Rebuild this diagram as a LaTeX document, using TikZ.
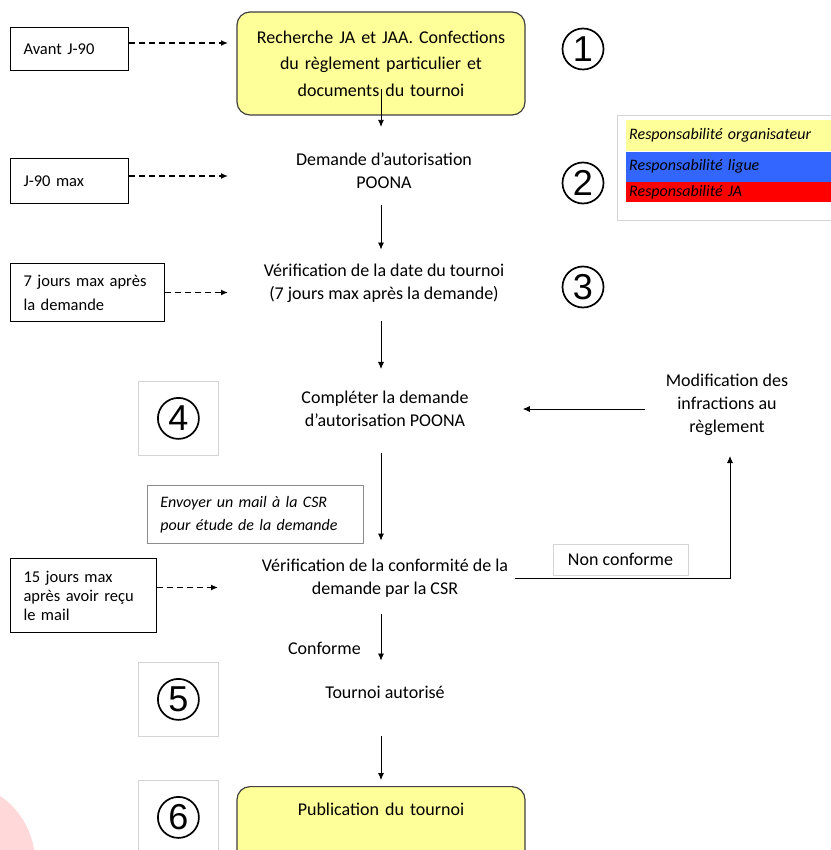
\documentclass[tikz,border=0pt]{standalone}
\usepackage{fontspec}
\setmainfont{Carlito}
\newfontfamily\digitfont{Liberation Sans}
\usetikzlibrary{positioning}
\usetikzlibrary{arrows.meta}
\definecolor{paleyellow}{HTML}{FFFF99}
\definecolor{ligueblue}{HTML}{3366FF}
\definecolor{ghost}{HTML}{D4D4D4}
\definecolor{blush}{HTML}{FFD9D9}

\begin{document}
\begin{tikzpicture}[x=1pt,y=-1pt,
    every node/.style={inner sep=0pt},
    body/.style={font=\fontsize{18}{23}\selectfont, align=center},
    delay/.style={draw, line width=1pt, anchor=north west, align=left, inner xsep=13pt, font=\fontsize{16.5}{24}\selectfont},
    phase/.style={draw=black!75, line width=1.2pt, fill=paleyellow, rounded corners=13pt, minimum width=288pt, minimum height=103pt, text width=270pt, align=center, font=\fontsize{18}{26.5}\selectfont},
    numbox/.style={draw=ghost, line width=0.8pt, minimum width=80pt, minimum height=74pt, anchor=north west},
    numero/.style={circle, draw, line width=1.7pt, minimum size=41pt, font=\digitfont\fontsize{36}{36}\selectfont},
    band/.style={anchor=north west, minimum width=220pt, text width=214pt, inner xsep=3pt, align=left, font=\fontsize{16}{18}\selectfont\itshape},
    flow/.style={-{Latex[length=7pt,width=6pt]}, line width=0.8pt},
    lag/.style={-{Latex[length=7pt,width=6pt]}, line width=1.8pt, dash pattern=on 6pt off 4pt},
  ]
  \useasboundingbox (0,0) rectangle (830,850);
  \fill[white] (0,0) rectangle (830,850);
  \fill[blush] (-45,862) circle (80pt);

  % Columns
  \coordinate (spine) at (381,0);
  \coordinate (lane) at (228,0);

  % Steps
  \node[phase] (recherche) at (381,63.5) {Recherche JA et JAA. Confections\\du règlement particulier et\\documents du tournoi};
  \node[body] (demande) at (384,171) {Demande d’autorisation\\POONA};
  \node[body] (datecheck) at (384,283) {Vérification de la date du tournoi\\(7 jours max après la demande)};
  \node[body] (completer) at (385,409) {Compléter la demande\\d’autorisation POONA};
  \node[body] (modif) at (727,405) {Modification des\\infractions au\\règlement};
  \node[body] (conformite) at (385,578) {Vérification de la conformité de la\\demande par la CSR};
  \node[body, anchor=east] (conforme) at (361,648) {Conforme};
  \node[body] (autorise) at (385,692) {Tournoi autorisé};
  \node[phase, anchor=north, text height=17pt, text depth=62pt, inner ysep=12pt] (publication) at (381,786) {Publication du tournoi};

  \node[body, draw=ghost, line width=0.8pt, minimum width=135pt, minimum height=31pt] (nonconf) at (620.5,559.5) {Non conforme};
  \node[draw=black!45, line width=0.8pt, anchor=north west, minimum height=58pt, text width=190pt, inner xsep=13pt, align=left, font=\fontsize{16}{23}\selectfont\itshape] (mail) at (147,485) {Envoyer un mail à la CSR\\pour étude de la demande};

  % Delays
  \node[delay, minimum height=43pt, text width=92pt] (avant) at (10,27) {Avant J-90};
  \node[delay, minimum height=45pt, text width=92pt] (j90) at (10,158) {J-90 max};
  \node[delay, minimum height=58pt, text width=128pt] (sept) at (10,263) {7 jours max après\\la demande};
  \node[delay, minimum height=74pt, text width=120pt, font=\fontsize{16.5}{19}\selectfont] (quinze) at (10,558) {15 jours max\\après avoir reçu\\le mail};

  % Numbers
  \node[numero] (n1) at (583,49) {1};
  \node[numero] (n2) at (583,183) {2};
  \node[numero] (n3) at (583,287) {3};
  \node[numbox] (cadre4) at (138,381) {};
  \node[numero] (n4) at (cadre4.center) {4};
  \node[numbox] (cadre5) at (138,662) {};
  \node[numero] (n5) at (cadre5.center) {5};
  \node[numbox] (cadre6) at (138,780) {};
  \node[numero] (n6) at (cadre6.center) {6};

  % Legend
  \node[draw=ghost, line width=0.8pt, anchor=north west, minimum width=240pt, minimum height=105pt] (legend) at (617,115) {};
  \node[band, fill=paleyellow, minimum height=31pt] (orga) at (626,120) {Responsabilité organisateur};
  \node[band, fill=ligueblue, minimum height=30pt, below=0pt of orga] (ligue) {Responsabilité ligue};
  \node[band, fill=red, minimum height=20pt, below=0pt of ligue] (ja) {Responsabilité JA};

  % Edges
  \draw[flow, shorten <=-27pt, shorten >=26pt] (recherche.south -| spine) -- (demande.north -| spine);
  \draw[flow, shorten <=16pt, shorten >=14pt] (demande.south -| spine) -- (datecheck.north -| spine);
  \draw[flow, shorten <=19pt, shorten >=22pt] (datecheck.south -| spine) -- (completer.north -| spine);
  \draw[flow, shorten <=26pt, shorten >=18pt] (completer.south -| spine) -- (conformite.north -| spine);
  \draw[flow, shorten <=17pt, shorten >=25pt] (conformite.south -| spine) -- (autorise.north -| spine);
  \draw[flow, shorten <=38pt, shorten >=6pt] (autorise.south -| spine) -- (publication.north -| spine);
  \draw[flow, shorten <=21pt, shorten >=54pt] (modif.west |- completer.east) -- (completer.east);
  \draw[flow, shorten <=7pt, shorten >=20pt] (conformite.east) -| (modif.south -| 730,0);

  \draw[lag] ([yshift=6pt]avant.east) -- ([yshift=6pt]avant.east -| lane);
  \draw[lag] ([yshift=5pt]j90.east) -- ([yshift=5pt]j90.east -| lane);
  \draw[lag] (sept.east) -- (sept.east -| lane);
  \draw[lag, shorten >=10pt] ([yshift=8pt]quinze.east) -- ([yshift=8pt]quinze.east -| lane);
\end{tikzpicture}
\end{document}
